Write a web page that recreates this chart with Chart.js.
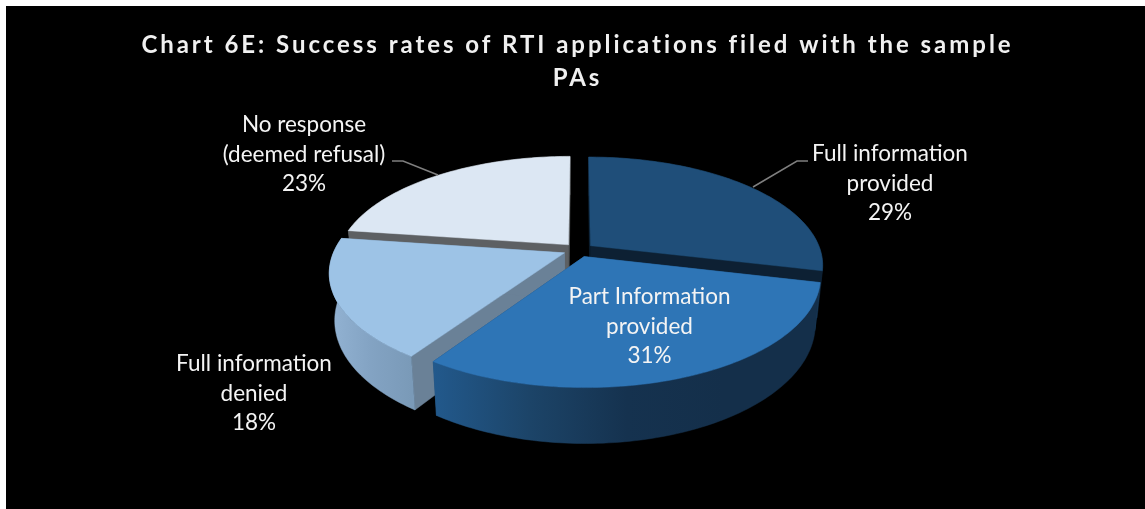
<!DOCTYPE html>
<html>
<head>
<meta charset="utf-8">
<style>html,body{margin:0;padding:0;background:#fff}canvas{display:block}</style>
<script src="https://cdn.jsdelivr.net/npm/chart.js@4"></script>
</head>
<body>
<canvas id="c" width="1145" height="509"></canvas>
<script>
const titleLines = ["Chart 6E: Success rates of RTI applications filed with the sample", "PAs"];
const categories = ["Full information provided", "Part Information provided", "Full information denied", "No response (deemed refusal)"];
const values = [29, 31, 18, 23];
const labelLines = [["Full information", "provided"], ["Part Information", "provided"], ["Full information", "denied"], ["No response", "(deemed refusal)"]];

const topColors = ["#1f4e79", "#2e75b6", "#9dc3e6", "#dce7f3"];
const cutColors = ["#0d2033", "#1f4e79", "#6a8197", "#5d6063"];
const wallStops = [["#0d2033", "#0d2033"], ["#22598c", "#1c4468", "#15324f", "#142f4a", "#142f4a"], ["#93b3d3", "#83a3c3", "#7a9ab8"], ["#5d6063", "#5d6063"]];
const labelCentres = [[890, 154.2], [649.5, 296.8], [254, 364.2], [304, 124.8]];
const leaderLines = [[[753, 187], [797, 161], [808, 161]], null, null, [[438, 175], [403, 161], [392, 161]]];
const paintOrder = [3, 0, 2, 1];

const view = {cx: 578.5, cy: 250, R: 230, S: 105.5, p: 0.175, D: 45.5, shrink: 0.022};
function project(u, v, z) {
  const w = 1 - view.p * v;
  return [view.cx + view.R * u / w * (1 - view.shrink * z), view.cy + view.S * v / w + z * view.D / w];
}

const pie3d = {
  id: 'pie3d',
  beforeDraw(chart) {
    const ctx = chart.ctx;
    ctx.save();
    ctx.fillStyle = '#000';
    ctx.fillRect(6, 6, 1139, 503);
    ctx.restore();
    ctx.letterSpacing = '2.96px';
  },
  beforeDatasetsDraw(chart) {
    const ctx = chart.ctx;
    ctx.letterSpacing = '0px';
    const arcs = chart.getDatasetMeta(0).data;
    function trace(pts) {
      ctx.beginPath();
      pts.forEach((p, i) => i ? ctx.lineTo(p[0], p[1]) : ctx.moveTo(p[0], p[1]));
      ctx.closePath();
    }
    function fillPoly(pts, style) {
      trace(pts);
      ctx.fillStyle = style;
      ctx.fill();
      ctx.strokeStyle = style;
      ctx.lineWidth = 0.5;
      ctx.stroke();
    }
    paintOrder.forEach(i => {
      const el = arcs[i];
      const s = el.startAngle, e = el.endAngle, mid = (s + e) / 2;
      const d = el.options.offset / el.outerRadius;
      const ou = d * Math.cos(mid), ov = d * Math.sin(mid);
      const n = Math.max(4, Math.ceil((e - s) / 0.02));
      const rim = [];
      for (let k = 0; k <= n; k++) {
        const a = s + (e - s) * k / n;
        rim.push([ou + Math.cos(a), ov + Math.sin(a)]);
      }
      const apexT = project(ou, ov, 0), apexB = project(ou, ov, 1);
      const rimT = rim.map(q => project(q[0], q[1], 0));
      const rimB = rim.map(q => project(q[0], q[1], 1));
      // radial cut faces
      fillPoly([apexT, rimT[0], rimB[0], apexB], cutColors[i]);
      fillPoly([apexT, rimT[n], rimB[n], apexB], cutColors[i]);
      // outer wall
      const xs = rimT.map(p => p[0]);
      const g = ctx.createLinearGradient(Math.min(...xs), 0, Math.max(...xs), 0);
      wallStops[i].forEach((c, k, arr) => g.addColorStop(k / (arr.length - 1), c));
      fillPoly(rimT.concat(rimB.slice().reverse()), g);
      // top face
      fillPoly([apexT].concat(rimT), el.options.backgroundColor);
    });
    return false;
  },
  afterDraw(chart) {
    const ctx = chart.ctx;
    ctx.save();
    ctx.letterSpacing = '0px';
    ctx.strokeStyle = '#7f7f7f';
    ctx.lineWidth = 1.5;
    leaderLines.forEach(line => {
      if (!line) return;
      ctx.beginPath();
      line.forEach((p, i) => i ? ctx.lineTo(p[0], p[1]) : ctx.moveTo(p[0], p[1]));
      ctx.stroke();
    });
    ctx.fillStyle = '#f4f4f4';
    ctx.font = '22.5px Lato';
    ctx.textAlign = 'center';
    ctx.textBaseline = 'middle';
    labelLines.forEach((lines, i) => {
      const all = lines.concat([values[i] + '%']);
      all.forEach((t, k) => ctx.fillText(t, labelCentres[i][0], labelCentres[i][1] + k * 29.5));
    });
    ctx.restore();
  }
};

new Chart(document.getElementById('c'), {
  type: 'pie',
  data: {
    labels: categories,
    datasets: [{data: values, backgroundColor: topColors, offset: 13, borderWidth: 0}]
  },
  options: {
    responsive: false,
    animation: false,
    events: [],
    layout: {padding: {left: 10}},
    plugins: {
      legend: {display: false},
      tooltip: {enabled: false},
      title: {
        display: true,
        text: titleLines,
        color: '#f0f0f0',
        font: {family: 'Lato', size: 24, weight: 'bold', lineHeight: 1.375},
        padding: {top: 29, bottom: 10}
      }
    }
  },
  plugins: [pie3d]
});
</script>
</body>
</html>
